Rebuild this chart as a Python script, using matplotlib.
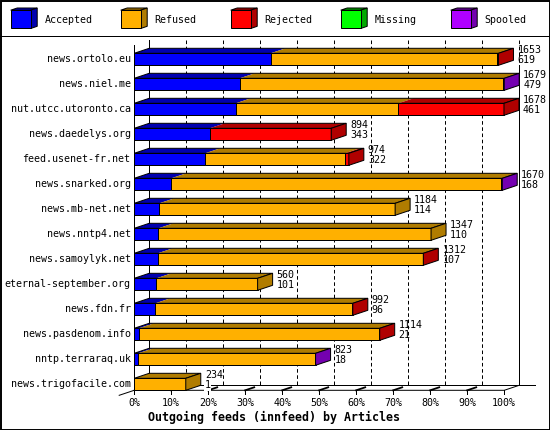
import matplotlib
matplotlib.use('Agg')
import matplotlib.pyplot as plt
from matplotlib.patches import Polygon, Rectangle

# ---------------- data ----------------
hosts = ['news.ortolo.eu', 'news.niel.me', 'nut.utcc.utoronto.ca', 'news.daedelys.org',
         'feed.usenet-fr.net', 'news.snarked.org', 'news.mb-net.net', 'news.nntp4.net',
         'news.samoylyk.net', 'eternal-september.org', 'news.fdn.fr', 'news.pasdenom.info',
         'nntp.terraraq.uk', 'news.trigofacile.com']
totals = [1653, 1679, 1678, 894, 974, 1670, 1184, 1347, 1312, 560, 992, 1114, 823, 234]
accepted = [619, 479, 461, 343, 322, 168, 114, 110, 107, 101, 96, 21, 18, 1]
refused = [1029, 1195, 738, 0, 634, 1498, 1070, 1237, 1202, 459, 893, 1089, 802, 233]
rejected = [5, 0, 479, 551, 18, 0, 0, 0, 3, 0, 3, 4, 0, 0]
missing = [0, 0, 0, 0, 0, 0, 0, 0, 0, 0, 0, 0, 0, 0]
spooled = [0, 5, 0, 0, 0, 4, 0, 0, 0, 0, 0, 0, 3, 0]

series_names = ['Accepted', 'Refused', 'Rejected', 'Missing', 'Spooled']
front_colors = ['#0000FF', '#FFB000', '#FF0000', '#00FF00', '#B000FF']
side_colors = ['#0000B0', '#B07C00', '#B00000', '#00A800', '#7400B0']
xtick_values = [0, 10, 20, 30, 40, 50, 60, 70, 80, 90, 100]
xtick_labels = ['0%', '10%', '20%', '30%', '40%', '50%', '60%', '70%', '80%', '90%', '100%']
title = 'Outgoing feeds (innfeed) by Articles'

series = [accepted, refused, rejected, missing, spooled]

# ---------------- layout ----------------
W, H = 550, 430
X0, XS = 134.2, 3.7     # pixel of 0 %, pixels per percent
Y0, YS = 59.3, 25.0     # pixel of first row centre, pixels per row
DX, DY = 15 / XS, -5 / YS   # 3-D depth in data units
BH = 12 / YS                # bar height
LW = 0.72
FONT = 'DejaVu Sans Mono'
FS = 7.2

fig = plt.figure(figsize=(W / 100, H / 100), dpi=100)
fig.patch.set_facecolor('white')
ax = fig.add_axes([0, 0, 1, 1])
ax.set_xlim((0 - X0) / XS, (W - X0) / XS)
ax.set_ylim((H - Y0) / YS, (0 - Y0) / YS)
ax.axis('off')

pax = fig.add_axes([0, 0, 1, 1])
pax.set_xlim(0, W)
pax.set_ylim(H, 0)
pax.axis('off')
pax.patch.set_alpha(0)

n = len(hosts)
rows = list(range(n))
scale_max = max(totals)

floor_front = (n - 1) + BH / 2
floor_back = floor_front + DY
wall_top_front = -0.5 - 1.75 / YS
wall_top_back = wall_top_front + DY

# back wall grid
for p in xtick_values[1:]:
    ax.plot([p + DX, p + DX], [wall_top_back, floor_back], color='black', lw=LW,
            linestyle=(0, (3.6, 2.6)), zorder=1)
ax.plot([DX, DX], [wall_top_back, floor_back], color='black', lw=LW, zorder=1)
ax.plot([100 + DX, 100 + DX], [0.23, floor_back], color='black', lw=LW, zorder=1)
ax.plot([0, 0], [wall_top_front, floor_front], color='black', lw=LW, zorder=1)

# floor
ax.plot([0, 100, 100 + DX], [floor_front, floor_front, floor_back], color='black', lw=LW, zorder=1)
ax.plot([DX, 100 + DX + 16 / XS], [floor_back, floor_back], color='black', lw=LW, zorder=1)
ax.plot([-DX, 0], [floor_front - DY, floor_front], color='black', lw=LW, zorder=1)
for p in xtick_values:
    ax.plot([p, p], [floor_front, floor_front + 4 / YS], color='black', lw=LW, zorder=1)
    if 0 < p < 100:
        ax.plot([p, p + 0.6 * DX], [floor_front, floor_front + 0.6 * DY], color='black',
                lw=1.3, zorder=1)
    ax.text(p, floor_front + 12.7 / YS, xtick_labels[xtick_values.index(p)], ha='center',
            va='center', fontsize=FS, family=FONT, zorder=6)

# bars
for i in rows:
    left = 0.0
    segs = []
    for s, vals in enumerate(series):
        w = vals[i] / scale_max * 100
        if w > 0:
            segs.append((s, left, w))
        left += w
    end = left
    top, bot = i - BH / 2, i + BH / 2
    for s, l, w in segs:
        ax.barh([i], [w], left=[l], height=BH, color=front_colors[s], edgecolor='black',
                linewidth=LW, zorder=3)
        ax.add_patch(Polygon([(l, top), (l + w, top), (l + w + DX, top + DY), (l + DX, top + DY)],
                             closed=True, facecolor=side_colors[s], edgecolor='none', zorder=2.9))
    ax.add_patch(Polygon([(0, top), (end, top), (end + DX, top + DY), (DX, top + DY)],
                         closed=True, facecolor='none', edgecolor='black', lw=LW, zorder=3.1))
    last = segs[-1][0]
    ax.add_patch(Polygon([(end, top), (end, bot), (end + DX, bot + DY), (end + DX, top + DY)],
                         closed=True, facecolor=side_colors[last], edgecolor='black', lw=LW,
                         zorder=3.2))
    # labels
    ax.text(-3.7 / XS, i, hosts[i], ha='right', va='center', fontsize=FS, family=FONT, zorder=6)
    lx = end + DX + 4 / XS
    bb = dict(facecolor='white', edgecolor='none', pad=0.3) if i == n - 1 else None
    ax.text(lx, i - 9.7 / YS, str(totals[i]), ha='left', va='center', fontsize=FS, family=FONT,
            zorder=6, bbox=bb)
    ax.text(lx, i + 1.0 / YS, str(accepted[i]), ha='left', va='center', fontsize=FS, family=FONT,
            zorder=6, bbox=bb)

# x-axis title
pax.text(274, 417, title, ha='center', va='center', fontsize=8.4, family=FONT,
         fontweight='bold')

# legend (pixel coordinates)
for k, name in enumerate(series_names):
    x = 10.7 + 110 * k
    y0, y1 = 10.2, 28.5
    cw, dx, dy = 20, 6.5, 2.2
    pax.add_patch(Polygon([(x, y0), (x + cw, y0), (x + cw + dx, y0 - dy), (x + dx, y0 - dy)],
                          closed=True, facecolor=side_colors[k], edgecolor='black', lw=LW))
    pax.add_patch(Polygon([(x + cw, y0), (x + cw, y1), (x + cw + dx, y1 - dy), (x + cw + dx, y0 - dy)],
                          closed=True, facecolor=side_colors[k], edgecolor='black', lw=LW))
    pax.add_patch(Rectangle((x, y0), cw, y1 - y0, facecolor=front_colors[k], edgecolor='black',
                            lw=LW))
    pax.text(x + 34, 20, name, ha='left', va='center', fontsize=FS, family=FONT)

pax.plot([0, W], [35.5, 35.5], color='black', lw=LW)
pax.add_patch(Rectangle((0.5, 0.5), W - 1, H - 1, facecolor='none', edgecolor='black', lw=1.4))

fig.savefig('out.png', dpi=100, facecolor='white')
